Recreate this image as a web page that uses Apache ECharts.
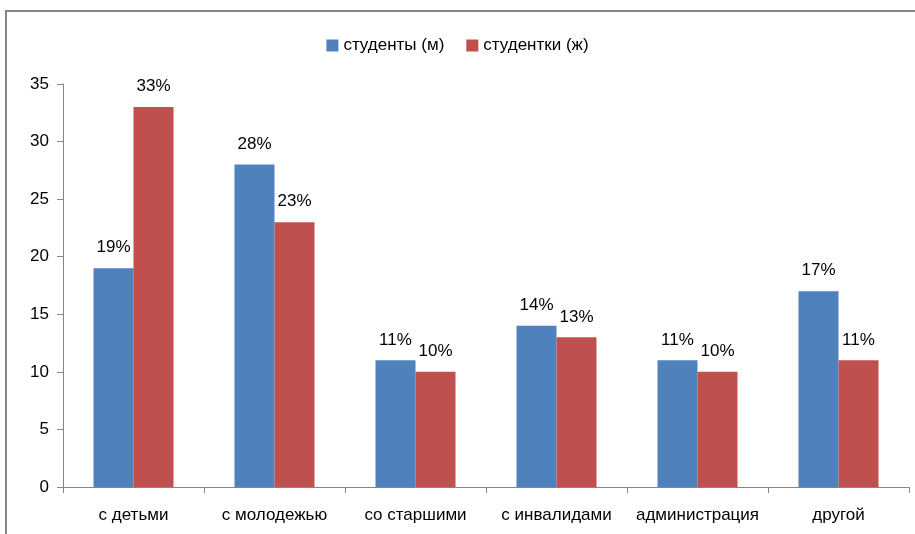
<!DOCTYPE html>
<html><head><meta charset="utf-8">
<script src="https://cdn.jsdelivr.net/npm/echarts@6/dist/echarts.min.js"></script>
<style>
html,body{margin:0;padding:0;background:#fff;}
#c{position:absolute;left:0;top:0;width:915px;height:534px;}
#frame{position:absolute;left:5px;top:10px;width:920px;height:540px;border:2px solid #868686;box-sizing:border-box;pointer-events:none;}
</style></head>
<body>
<div id="c"></div>
<div id="frame"></div>
<script>
const categories = ['с детьми','с молодежью','со старшими','с инвалидами','администрация','другой'];
const maleValues = [19, 28, 11, 14, 11, 17];
const femaleValues = [33, 23, 10, 13, 10, 11];
const seriesNames = ['студенты (м)','студентки (ж)'];
const font = '"Liberation Sans Narrow","Liberation Sans",sans-serif';
const chart = echarts.init(document.getElementById('c'));
const lbl = {show:true, position:'top', distance:12, formatter:'{c}%', color:'#000', fontSize:17, fontFamily:font};
chart.setOption({
  animation:false,
  textStyle:{fontFamily:font},
  legend:{top:32, left:'center', itemWidth:12, itemHeight:12, itemGap:22,
    icon:'rect', textStyle:{fontSize:17, color:'#000', fontFamily:font}, data:seriesNames},
  grid:{left:63, right:6, top:84, bottom:47, containLabel:false},
  xAxis:{type:'category', data:categories,
    axisLine:{lineStyle:{color:'#868686'}},
    axisTick:{show:true, alignWithLabel:false, length:6, lineStyle:{color:'#868686'}},
    axisLabel:{color:'#000', fontSize:17, margin:20, fontFamily:font, interval:0}},
  yAxis:{type:'value', min:0, max:35, interval:5,
    axisLine:{show:true, lineStyle:{color:'#868686'}},
    axisTick:{show:true, length:6, lineStyle:{color:'#868686'}},
    splitLine:{show:false},
    axisLabel:{color:'#000', fontSize:17, margin:14, fontFamily:font}},
  series:[
    {name:seriesNames[0], type:'bar', data:maleValues, itemStyle:{color:'#4F81BD'}, barWidth:40, barGap:'0%', label:lbl},
    {name:seriesNames[1], type:'bar', data:femaleValues, itemStyle:{color:'#C0504D'}, barWidth:40, barGap:'0%', label:lbl}
  ]
});
</script>
</body></html>
